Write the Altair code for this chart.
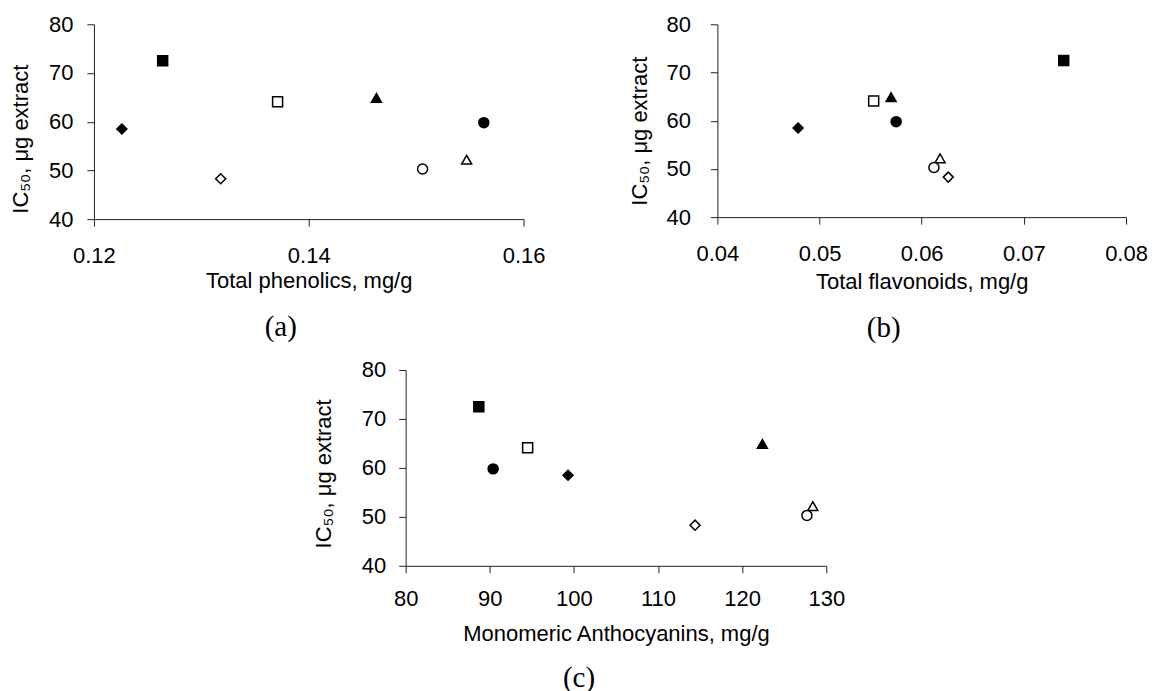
import altair as alt
import pandas as pd

# Sample keys (marker style) shared by all panels
keys = ["fsq", "osq", "ftri", "otri", "fdia", "odia", "fcir", "ocir"]
shapes = ["square", "square", "triangle-up", "triangle-up", "diamond", "diamond", "circle", "circle"]
fills = ["black", "white", "black", "white", "black", "white", "black", "white"]
sizes = [100, 100, 200, 160, 121, 121, 121, 105]

# IC50 values (µg extract)
ic50 = [72.5, 64.1, 64.9, 52.2, 58.5, 48.3, 59.8, 50.3]

# x values per panel
phenolics = [0.1264, 0.1371, 0.1463, 0.1547, 0.1226, 0.1318, 0.1563, 0.1506]
flavonoids = [0.0739, 0.0553, 0.0570, 0.0618, 0.0479, 0.0626, 0.0575, 0.0612]
anthocyanins = [88.7, 94.5, 122.4, 128.4, 99.3, 114.4, 90.4, 127.7]

y_ticks = [40, 50, 60, 70, 80]
a_ticks = [0.12, 0.14, 0.16]
b_ticks = [0.04, 0.05, 0.06, 0.07, 0.08]
c_ticks = [80, 90, 100, 110, 120, 130]

FONT = "Liberation Sans"
SERIF = "Liberation Serif"
AXC = "#222222"


def panel(xvals, xdomain, xticks, xfmt, xtitle, caption, cap_dx, w, h,
          y_title_x, y_title_y, x_title_y, x_label_pad, y_label_pad, cap_offset):
    df = pd.DataFrame({"x": xvals, "y": ic50, "k": keys})
    xaxis = alt.Axis(values=xticks, format=xfmt, title=xtitle, grid=False,
                     tickSize=7, labelPadding=x_label_pad, labelFlush=False,
                     labelOverlap=False, titleY=x_title_y, titleBaseline="top")
    yaxis = alt.Axis(values=y_ticks, format="d", title="IC₅₀, μg extract", grid=False,
                     tickSize=7, labelPadding=y_label_pad, labelFlush=False,
                     labelOverlap=False, titleX=y_title_x, titleY=y_title_y,
                     titleBaseline="alphabetic", titleAngle=270)
    return alt.Chart(df).mark_point(filled=True, stroke="black", strokeWidth=1.5, opacity=1).encode(
        x=alt.X("x:Q", scale=alt.Scale(domain=xdomain, nice=False, zero=False), axis=xaxis),
        y=alt.Y("y:Q", scale=alt.Scale(domain=[40, 80], nice=False, zero=False), axis=yaxis),
        shape=alt.Shape("k:N", scale=alt.Scale(domain=keys, range=shapes), legend=None),
        fill=alt.Fill("k:N", scale=alt.Scale(domain=keys, range=fills), legend=None),
        size=alt.Size("k:N", scale=alt.Scale(domain=keys, range=sizes), legend=None),
    ).properties(
        width=w, height=h,
        title=alt.TitleParams(text=caption, orient="bottom", anchor="middle", frame="group",
                              dx=cap_dx, offset=cap_offset, font=SERIF, fontSize=29,
                              fontWeight="normal", color="black", baseline="top"),
    )


a = panel(phenolics, [0.12, 0.16], a_ticks, ".2f", "Total phenolics, mg/g", "(a)", -28,
          430, 195, -66, 114.5, 51, 19, 14, 22)
b = panel(flavonoids, [0.04, 0.08], b_ticks, ".2f", "Total flavonoids, mg/g", "(b)", -38,
          409, 193, -71, 106.5, 54, 19, 20, 22)
c = panel(anthocyanins, [80, 130], c_ticks, "d", "Monomeric Anthocyanins, mg/g", "(c)", -37,
          421, 196, -75, 103.5, 58, 16, 13, 19)

spacer = alt.Chart(pd.DataFrame({"x": [0], "y": [0]})).mark_point(opacity=0).encode(
    x=alt.X("x:Q", axis=None), y=alt.Y("y:Q", axis=None)
).properties(width=300, height=196)

top = alt.hconcat(a, b, spacing=194, bounds="flush")
bottom = alt.hconcat(spacer, c, spacing=12, bounds="flush")

chart = alt.vconcat(top, bottom, spacing=346, bounds="flush").properties(
    padding={"left": 2, "top": 5, "right": 0, "bottom": 0},
    background="white",
).configure_view(stroke=None).configure_axis(
    domainColor=AXC, tickColor=AXC, domainWidth=1, tickWidth=1,
    labelColor="black", titleColor="black", labelFont=FONT, titleFont=FONT,
    labelFontSize=22, titleFontSize=22, titleFontWeight="normal",
)

chart.save("out.html", embed_options={"renderer": "svg", "actions": False})
